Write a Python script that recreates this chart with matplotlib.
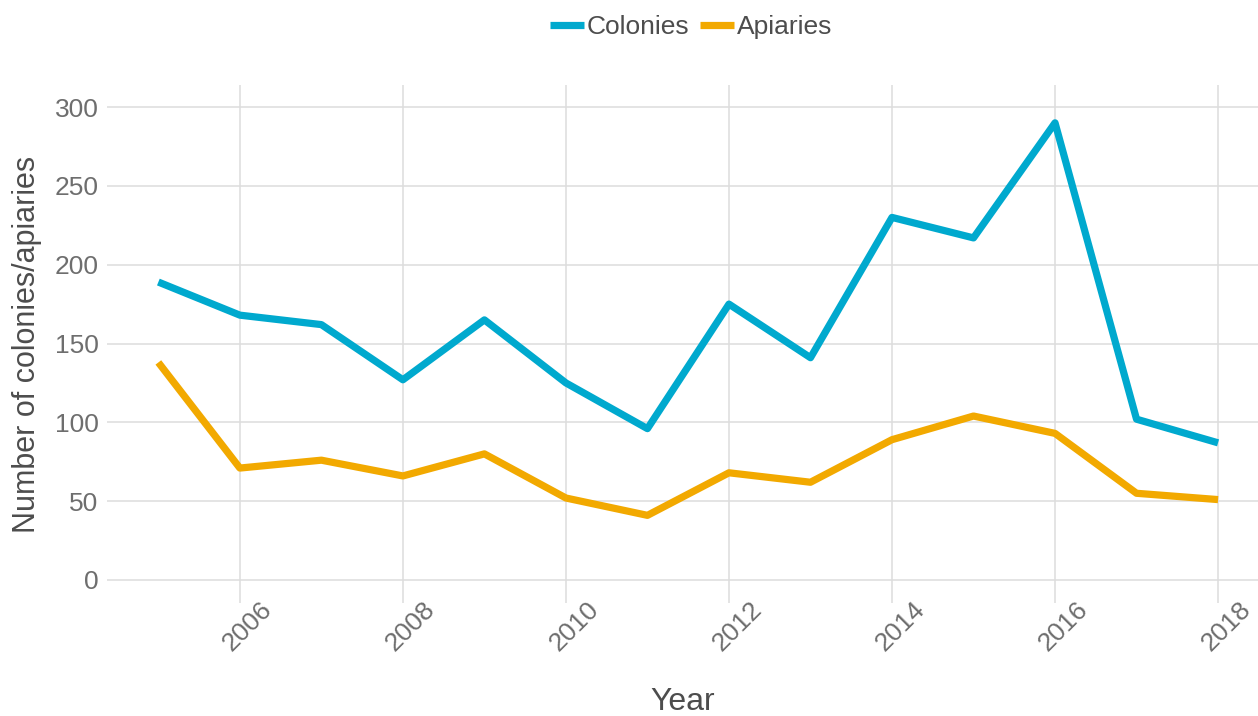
import matplotlib.pyplot as plt
import matplotlib.transforms as mtransforms
from matplotlib import font_manager

# ---------------------------------------------------------------- data
years    = [2005, 2006, 2007, 2008, 2009, 2010, 2011, 2012, 2013, 2014, 2015, 2016, 2017, 2018]
colonies = [189, 168, 162, 127, 165, 125, 96, 175, 141, 230, 217, 290, 102, 87]
apiaries = [138, 71, 76, 66, 80, 52, 41, 68, 62, 89, 104, 93, 55, 51]

x_ticks  = [2006, 2008, 2010, 2012, 2014, 2016, 2018]
y_ticks  = [0, 50, 100, 150, 200, 250, 300]

# ---------------------------------------------------------------- style
names = {f.name for f in font_manager.fontManager.ttflist}
font = 'Liberation Sans Narrow' if 'Liberation Sans Narrow' in names else 'Liberation Sans'
plt.rcParams['font.family'] = [font, 'DejaVu Sans']

BLUE   = '#00A9CE'
ORANGE = '#F2A900'
GRID   = '#DDDDDD'
TICKC  = '#6E6E6E'
LABC   = '#4D4D4D'

# ---------------------------------------------------------------- plot
fig = plt.figure(figsize=(12.58, 7.16), dpi=100)
ax = fig.add_axes([107 / 1258, 1 - 603 / 716, (1258 - 107) / 1258, (603 - 85) / 716])

ax.plot(years, colonies, color=BLUE, lw=5.2, label='Colonies', solid_joinstyle='round', solid_capstyle='butt')
ax.plot(years, apiaries, color=ORANGE, lw=5.2, label='Apiaries', solid_joinstyle='round', solid_capstyle='butt')

ax.set_xlim(2004.37, 2018.49)
ax.set_ylim(-14.6, 314)
ax.set_xticks(x_ticks)
ax.set_yticks(y_ticks)
ax.grid(True, color=GRID, lw=1.1)
ax.set_axisbelow(True)
for s in ax.spines.values():
    s.set_visible(False)
ax.tick_params(axis='y', length=0, labelsize=19, labelcolor=TICKC, pad=6)
ax.tick_params(axis='x', length=0, labelsize=19, labelcolor=TICKC, pad=-4)
shift = mtransforms.ScaledTranslation(8 / 100, 0, fig.dpi_scale_trans)
for lab in ax.get_xticklabels():
    lab.set_rotation(45)
    lab.set_ha('center')
    lab.set_va('top')
    lab.set_transform(lab.get_transform() + shift)

ax.set_xlabel('Year', fontsize=23, color=LABC, labelpad=22)
ax.set_ylabel('Number of colonies/apiaries', fontsize=22, color=LABC, labelpad=9)

fig.legend(loc='center', bbox_to_anchor=(691 / 1258, 1 - 27 / 716), ncol=2, frameon=False,
           fontsize=19, handlelength=1.3, handletextpad=0.1, columnspacing=0.4,
           labelcolor=LABC)

plt.savefig('out.png', dpi=100)
